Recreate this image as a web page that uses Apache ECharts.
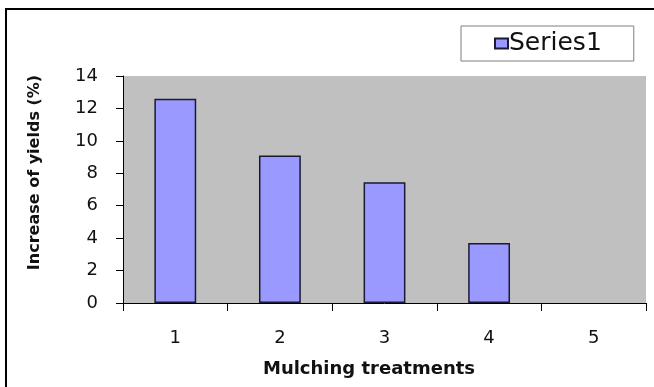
<!DOCTYPE html>
<html>
<head>
<meta charset="utf-8">
<script src="https://cdn.jsdelivr.net/npm/echarts@6/dist/echarts.min.js"></script>
<style>
  html, body { margin: 0; padding: 0; background: #fff; }
  #chart { width: 654px; height: 387px; }
</style>
</head>
<body>
<div id="chart"></div>
<script>
// Mulching treatments and the yield increase each one gave
const treatments = ['1', '2', '3', '4', '5'];
const yieldIncrease = [12.6, 9.1, 7.45, 3.7, null];
const yTicks = { min: 0, max: 14, interval: 2 };
const seriesName = 'Series1';

const font = '"DejaVu Sans", Arial, sans-serif';

const chart = echarts.init(document.getElementById('chart'), null, { renderer: 'canvas' });

chart.setOption({
  animation: false,
  backgroundColor: '#ffffff',
  graphic: [
    {
      // frame around the chart area (runs past the right and bottom edges)
      type: 'rect',
      shape: { x: 6, y: 9, width: 720, height: 420 },
      style: { fill: null, stroke: '#000', lineWidth: 2 },
      silent: true
    }
  ],
  legend: {
    data: [seriesName],
    left: 461,
    top: 26,
    padding: [3, 32, 3, 33],
    itemWidth: 13,
    itemHeight: 10,
    itemGap: 4,
    backgroundColor: '#ffffff',
    borderColor: '#7f7f7f',
    borderWidth: 1,
    icon: 'rect',
    textStyle: { fontFamily: font, fontSize: 25, lineHeight: 29, color: '#111', padding: [0, 0, 0, -4] }
  },
  grid: {
    left: 123,
    right: 8,
    top: 76,
    bottom: 84,
    show: true,
    backgroundColor: '#c0c0c0',
    borderWidth: 0
  },
  xAxis: {
    type: 'category',
    data: treatments,
    boundaryGap: true,
    name: 'Mulching treatments',
    nameLocation: 'middle',
    nameGap: 57,
    nameTextStyle: {
      fontFamily: font, fontSize: 18, fontWeight: 'bold', color: '#111',
      padding: [0, 31, 0, 0]
    },
    axisLine: { show: true, lineStyle: { color: '#000', width: 1 } },
    axisTick: { show: true, length: 8, alignWithLabel: false, lineStyle: { color: '#000' } },
    axisLabel: { fontFamily: font, fontSize: 18, color: '#111', margin: 26 },
    splitLine: { show: false }
  },
  yAxis: {
    type: 'value',
    min: yTicks.min,
    max: yTicks.max,
    interval: yTicks.interval,
    name: 'Increase of yields (%)',
    nameLocation: 'middle',
    nameGap: 80,
    nameTextStyle: {
      fontFamily: font, fontSize: 16, fontWeight: 'bold', color: '#111',
      padding: [0, 0, 0, 34]
    },
    axisLine: { show: true, lineStyle: { color: '#000', width: 1 } },
    axisTick: { show: true, inside: false, length: 7, lineStyle: { color: '#000' } },
    axisLabel: { fontFamily: font, fontSize: 18, color: '#111', margin: 25 },
    splitLine: { show: false }
  },
  series: [
    {
      name: seriesName,
      type: 'bar',
      data: yieldIncrease,
      barWidth: '40%',
      itemStyle: { color: '#9999ff', borderColor: '#1a1a33', borderWidth: 1.5 }
    }
  ]
});
</script>
</body>
</html>
